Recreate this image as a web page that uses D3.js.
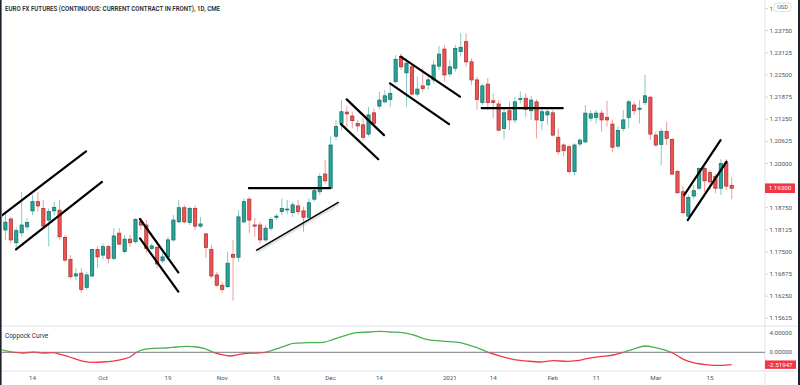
<!DOCTYPE html>
<html>
<head>
<meta charset="utf-8">
<script src="https://cdn.jsdelivr.net/npm/d3@7"></script>
<style>
  body { margin: 0; background: #fff; }
  svg { display: block; font-family: Roboto, "DejaVu Sans", sans-serif; }
</style>
</head>
<body>
<svg id="chart" width="800" height="385"></svg>
<script>
// Trading calendar (CME daily bars, holidays have no bar)
const FIRST_DAY = "2020-09-04";
const LAST_DAY = "2021-03-19";
const HOLIDAYS = ["2020-09-07", "2020-11-26", "2020-12-25", "2021-01-01", "2021-01-18", "2021-02-15"];

// OHLC, one entry per trading day
const OPEN = [
  1.1812, 1.1843, 1.1776, 1.1804, 1.1821, 1.1866, 1.1892, 1.1873, 1.1840, 1.1866,
  1.1868, 1.1791, 1.1729, 1.1682, 1.1690, 1.1650, 1.1682, 1.1757, 1.1741, 1.1765,
  1.1732, 1.1803, 1.1751, 1.1786, 1.1779, 1.1835, 1.1826, 1.1760, 1.1763, 1.1725,
  1.1736, 1.1784, 1.1835, 1.1875, 1.1833, 1.1873, 1.1823, 1.1801, 1.1757, 1.1685,
  1.1656, 1.1652, 1.1743, 1.1735, 1.1835, 1.1899, 1.1826, 1.1826, 1.1784, 1.1817,
  1.1848, 1.1864, 1.1869, 1.1861, 1.1880, 1.1866, 1.1848, 1.1899, 1.1920, 1.1970,
  1.1930, 1.2077, 1.2113, 1.2145, 1.2134, 1.2113, 1.2109, 1.2083, 1.2143, 1.2162,
  1.2174, 1.2181, 1.2231, 1.2302, 1.2256, 1.2273, 1.2196, 1.2219, 1.2222, 1.2236,
  1.2275, 1.2323, 1.2253, 1.2269, 1.2316, 1.2344, 1.2287, 1.2236, 1.2172, 1.2224,
  1.2177, 1.2168, 1.2099, 1.2149, 1.2123, 1.2181, 1.2184, 1.2149, 1.2174, 1.2121,
  1.2137, 1.2143, 1.2074, 1.2052, 1.2047, 1.1977, 1.2055, 1.2061, 1.2128, 1.2130,
  1.2142, 1.2130, 1.2111, 1.2049, 1.2099, 1.2130, 1.2165, 1.2153, 1.2172, 1.2187,
  1.2080, 1.2054, 1.2090, 1.2068, 1.1977, 1.1920, 1.1851, 1.1908, 1.1930, 1.1986,
  1.1974, 1.1963, 1.1930, 1.2002, 1.1938
];
const HIGH = [
  1.1864, 1.1849, 1.1820, 1.1920, 1.1845, 1.1911, 1.1920, 1.1897, 1.1873, 1.1892,
  1.1897, 1.1798, 1.1741, 1.1704, 1.1704, 1.1694, 1.1760, 1.1767, 1.1774, 1.1770,
  1.1817, 1.1817, 1.1798, 1.1798, 1.1845, 1.1842, 1.1840, 1.1774, 1.1767, 1.1746,
  1.1793, 1.1854, 1.1897, 1.1883, 1.1878, 1.1883, 1.1849, 1.1803, 1.1770, 1.1694,
  1.1666, 1.1751, 1.1784, 1.1868, 1.1901, 1.1906, 1.1846, 1.1835, 1.1826, 1.1848,
  1.1857, 1.1901, 1.1897, 1.1892, 1.1897, 1.1878, 1.1901, 1.1934, 1.1972, 1.2010,
  1.2077, 1.2123, 1.2179, 1.2162, 1.2146, 1.2123, 1.2128, 1.2160, 1.2156, 1.2203,
  1.2208, 1.2226, 1.2306, 1.2311, 1.2297, 1.2278, 1.2245, 1.2269, 1.2245, 1.2292,
  1.2332, 1.2335, 1.2292, 1.2335, 1.2368, 1.2368, 1.2297, 1.2245, 1.2226, 1.2241,
  1.2198, 1.2179, 1.2160, 1.2174, 1.2189, 1.2203, 1.2198, 1.2191, 1.2181, 1.2156,
  1.2160, 1.2151, 1.2099, 1.2057, 1.2052, 1.2057, 1.2071, 1.2165, 1.2151, 1.2151,
  1.2151, 1.2177, 1.2123, 1.2104, 1.2151, 1.2179, 1.2174, 1.2179, 1.2250, 1.2191,
  1.2090, 1.2099, 1.2118, 1.2071, 1.1981, 1.1936, 1.1911, 1.1939, 1.1989, 1.1991,
  1.1981, 1.1972, 1.2012, 1.2012, 1.1961
];
const LOW = [
  1.1784, 1.1774, 1.1763, 1.1793, 1.1812, 1.1854, 1.1864, 1.1817, 1.1765, 1.1854,
  1.1784, 1.1722, 1.1675, 1.1671, 1.1635, 1.1642, 1.1680, 1.1704, 1.1729, 1.1718,
  1.1727, 1.1770, 1.1746, 1.1765, 1.1774, 1.1812, 1.1746, 1.1755, 1.1704, 1.1718,
  1.1727, 1.1779, 1.1831, 1.1831, 1.1826, 1.1812, 1.1818, 1.1733, 1.1676, 1.1652,
  1.1635, 1.1648, 1.1612, 1.1722, 1.1831, 1.1803, 1.1793, 1.1774, 1.1779, 1.1810,
  1.1840, 1.1854, 1.1857, 1.1849, 1.1854, 1.1807, 1.1840, 1.1892, 1.1911, 1.1944,
  1.1928, 1.2066, 1.2094, 1.2104, 1.2099, 1.2090, 1.2066, 1.2076, 1.2109, 1.2153,
  1.2170, 1.2159, 1.2226, 1.2264, 1.2159, 1.2193, 1.2189, 1.2203, 1.2208, 1.2226,
  1.2264, 1.2231, 1.2245, 1.2259, 1.2302, 1.2273, 1.2222, 1.2151, 1.2165, 1.2151,
  1.2128, 1.2090, 1.2068, 1.2094, 1.2113, 1.2170, 1.2132, 1.2123, 1.2071, 1.2094,
  1.2109, 1.2077, 1.2024, 1.2019, 1.1972, 1.1967, 1.2047, 1.2057, 1.2118, 1.2113,
  1.2090, 1.2104, 1.2033, 1.2043, 1.2090, 1.2099, 1.2137, 1.2113, 1.2165, 1.2066,
  1.2047, 1.1996, 1.2052, 1.1967, 1.1916, 1.1857, 1.1849, 1.1901, 1.1925, 1.1920,
  1.1925, 1.1916, 1.1911, 1.1925, 1.1899
];
const CLOSE = [
  1.1834, 1.1784, 1.1810, 1.1826, 1.1833, 1.1892, 1.1880, 1.1823, 1.1864, 1.1876,
  1.1793, 1.1727, 1.1680, 1.1688, 1.1644, 1.1685, 1.1757, 1.1736, 1.1765, 1.1732,
  1.1795, 1.1772, 1.1786, 1.1776, 1.1842, 1.1826, 1.1760, 1.1767, 1.1716, 1.1736,
  1.1784, 1.1840, 1.1875, 1.1835, 1.1873, 1.1823, 1.1829, 1.1763, 1.1682, 1.1656,
  1.1644, 1.1718, 1.1735, 1.1849, 1.1892, 1.1840, 1.1823, 1.1784, 1.1817, 1.1842,
  1.1851, 1.1873, 1.1871, 1.1883, 1.1864, 1.1848, 1.1889, 1.1923, 1.1963, 1.1951,
  1.2052, 1.2104, 1.2146, 1.2140, 1.2121, 1.2106, 1.2074, 1.2137, 1.2113, 1.2179,
  1.2191, 1.2198, 1.2294, 1.2273, 1.2283, 1.2196, 1.2210, 1.2212, 1.2236, 1.2278,
  1.2309, 1.2250, 1.2273, 1.2325, 1.2328, 1.2287, 1.2236, 1.2181, 1.2219, 1.2172,
  1.2172, 1.2094, 1.2143, 1.2123, 1.2174, 1.2183, 1.2153, 1.2179, 1.2123, 1.2146,
  1.2146, 1.2080, 1.2033, 1.2036, 1.1977, 1.2052, 1.2066, 1.2142, 1.2140, 1.2142,
  1.2123, 1.2123, 1.2046, 1.2093, 1.2123, 1.2174, 1.2149, 1.2156, 1.2191, 1.2083,
  1.2052, 1.2090, 1.2071, 1.1970, 1.1917, 1.1861, 1.1904, 1.1923, 1.1986, 1.1951,
  1.1948, 1.1930, 1.2000, 1.1936, 1.1930
];

// Coppock curve (bar position, value)
const COP_POS = [
  -1.0, 0.2, 1.8, 3.3, 5.2, 7.0, 8.8, 10.7, 12.5, 14.4, 16.2, 18.1, 19.9, 21.8, 23.0,
  24.2, 25.4, 27.3, 29.8, 31.6, 33.5, 35.3, 36.8, 38.4, 39.9, 41.4, 43.0, 44.5, 46.4,
  47.9, 50.1, 51.9, 53.1, 55.6, 58.7, 60.5, 63.0, 64.8, 67.3, 69.1, 71.0, 72.8, 75.3,
  77.7, 79.6, 81.4, 83.9, 85.1, 87.0, 89.1, 91.3, 93.7, 96.2, 98.6, 101.1, 103.6,
  105.4, 107.3, 109.7, 112.2, 114.0, 115.9, 118.0, 119.9, 122.0, 123.2, 125.1, 126.9,
  128.8, 130.6, 132.2, 134.0
];
const COP_VAL = [
  0.61, 0.27, 0.00, -0.14, 0.06, -0.14, -0.07, -0.60, -1.20, -1.84, -2.04, -1.98, -1.78, -1.37, -0.96,
  0.00, 0.54, 0.82, 0.88, 1.08, 1.22, 1.08, 0.73, 0.00, -0.48, -0.76, -0.48, -0.20, -0.14,
  0.00, 0.73, 1.43, 1.84, 1.96, 2.04, 2.65, 3.53, 4.00, 4.14, 4.29, 4.14, 4.08, 3.53,
  2.65, 2.37, 2.24, 1.96, 1.63, 0.94, 0.00, -0.76, -1.43, -1.78, -1.98, -1.71, -1.84,
  -1.71, -1.31, -0.90, -0.55, 0.00, 0.67, 1.29, 0.94, 0.33, -0.20, -1.43, -2.12,
  -2.45, -2.68, -2.66, -2.51947
];

// Drawn annotations: [[bar, price], [bar, price]]
const TREND_LINES = [
  [[-1.0, 1.1849], [14.87, 1.2034]],
  [[1.96, 1.1757], [17.82, 1.1948]],
  [[24.83, 1.1843], [31.9, 1.1692]],
  [[24.83, 1.1788], [31.9, 1.1638]],
  [[44.94, 1.1930], [59.89, 1.1930]],
  [[62.97, 1.2181], [69.85, 1.2080]],
  [[61.92, 1.2111], [68.80, 1.2012]],
  [[72.93, 1.2302], [83.87, 1.2189]],
  [[70.96, 1.2226], [81.85, 1.2111]],
  [[87.88, 1.2156], [102.82, 1.2156]],
  [[125.26, 1.1911], [131.95, 1.2066]],
  [[125.89, 1.1840], [133.05, 1.2005]]
];
const SUPPORT_LINES = [
  [[46.37, 1.1755], [61.42, 1.1890]]
];

// Axis labels
const TICK_DAYS = ["2020-09-14", "2020-10-01", "2020-10-19", "2020-11-02", "2020-11-16", "2020-12-01",
  "2020-12-14", "2021-01-04", "2021-01-14", "2021-02-01", "2021-02-11", "2021-03-01", "2021-03-15"];
const TICK_LABELS = ["14", "Oct", "19", "Nov", "16", "Dec", "14", "2021", "14", "Feb", "11", "Mar", "15"];
// 1.19375 sits under the last-price badge in the reference, so it is left out
const PRICE_TICKS = [1.24375, 1.2375, 1.23125, 1.225, 1.21875, 1.2125, 1.20625, 1.2,
  1.1875, 1.18125, 1.175, 1.16875, 1.1625, 1.15625];
const COP_TICKS = [4, 0];

const TITLE = "EURO FX FUTURES (CONTINUOUS: CURRENT CONTRACT IN FRONT), 1D, CME";
const COP_TITLE = "Coppock Curve";

function tradingDays(first, last) {
  const out = [];
  const d = new Date(first + "T00:00:00Z");
  const end = new Date(last + "T00:00:00Z");
  while (d <= end) {
    const s = d.toISOString().slice(0, 10);
    const wd = d.getUTCDay();
    if (wd !== 0 && wd !== 6 && !HOLIDAYS.includes(s)) out.push(s);
    d.setUTCDate(d.getUTCDate() + 1);
  }
  return out;
}

const days = tradingDays(FIRST_DAY, LAST_DAY);
const bars = days.map((d, i) => ({i: i, o: OPEN[i], h: HIGH[i], l: LOW[i], c: CLOSE[i]}));

const W = 800, H = 385;
const axisX = 765;
const mainTop = 0, mainBottom = 326;
const copTop = 326, copBottom = 371;

const svg = d3.select("#chart");

const x = d3.scaleLinear()
  .domain([days.indexOf("2020-09-14"), days.indexOf("2021-03-15")])
  .range([32.5, 710]);

const y = d3.scaleLinear()
  .domain([1.15625, 1.2375])
  .range([318.3, 30.7]);

const yc = d3.scaleLinear()
  .domain([0, 4])
  .range([352.3, 332.7]);

const defs = svg.append("defs");
defs.append("clipPath").attr("id", "mainClip")
  .append("rect").attr("x", 2).attr("y", mainTop).attr("width", axisX - 2).attr("height", mainBottom - mainTop);
defs.append("clipPath").attr("id", "copAbove")
  .append("rect").attr("x", 2).attr("y", copTop).attr("width", axisX - 2).attr("height", yc(0) - copTop);
defs.append("clipPath").attr("id", "copBelow")
  .append("rect").attr("x", 2).attr("y", yc(0)).attr("width", axisX - 2).attr("height", copBottom - yc(0));
// the top price label is mostly hidden behind the currency badge
defs.append("clipPath").attr("id", "badgeClip")
  .append("rect").attr("x", axisX).attr("y", 0).attr("width", 8.5).attr("height", 14);
const shadow = defs.append("filter").attr("id", "shadow")
  .attr("x", "-10%").attr("y", "-50%").attr("width", "120%").attr("height", "200%");
shadow.append("feDropShadow").attr("dx", 0).attr("dy", 1.5).attr("stdDeviation", 1.2)
  .attr("flood-color", "#000").attr("flood-opacity", 0.3);

svg.append("rect").attr("width", W).attr("height", H).attr("fill", "#fff");

// pane separators
const sepColor = "#e0e3eb";
svg.append("line").attr("x1", 0).attr("x2", W).attr("y1", mainBottom).attr("y2", mainBottom)
  .attr("stroke", sepColor).attr("stroke-width", 1);
svg.append("line").attr("x1", 0).attr("x2", W).attr("y1", copBottom).attr("y2", copBottom)
  .attr("stroke", sepColor).attr("stroke-width", 1);
svg.append("line").attr("x1", axisX).attr("x2", axisX).attr("y1", 0).attr("y2", H)
  .attr("stroke", sepColor).attr("stroke-width", 1);

// candles
const main = svg.append("g").attr("clip-path", "url(#mainClip)");
const up = d => d.c >= d.o;
const bodyW = 3.2;

main.selectAll(".wick").data(bars).enter().append("line")
  .attr("x1", d => x(d.i)).attr("x2", d => x(d.i))
  .attr("y1", d => y(d.h)).attr("y2", d => y(d.l))
  .attr("stroke", d => up(d) ? "#86cbc3" : "#f19c9a")
  .attr("stroke-width", 1);

main.selectAll(".body").data(bars).enter().append("rect")
  .attr("x", d => x(d.i) - bodyW / 2)
  .attr("y", d => y(Math.max(d.o, d.c)))
  .attr("width", bodyW)
  .attr("height", d => Math.max(0.8, Math.abs(y(d.o) - y(d.c))))
  .attr("fill", d => up(d) ? "#26a69a" : "#ef5350")
  .attr("stroke", d => up(d) ? "#1b6f67" : "#a8363a")
  .attr("stroke-width", 0.8);

// annotations
const seg = d3.line().x(p => x(p[0])).y(p => y(p[1]));
main.selectAll(".trend").data(TREND_LINES).enter().append("path")
  .attr("d", seg).attr("fill", "none")
  .attr("stroke", "#000").attr("stroke-width", 2.2).attr("stroke-linecap", "round");
main.selectAll(".support").data(SUPPORT_LINES).enter().append("path")
  .attr("d", seg).attr("fill", "none")
  .attr("stroke", "#000").attr("stroke-width", 1.4).attr("stroke-linecap", "round")
  .attr("filter", "url(#shadow)");

// title
svg.append("text").attr("x", 5).attr("y", 10.5)
  .attr("font-size", 6.6).attr("font-weight", 600).attr("fill", "#2a2e39")
  .attr("textLength", 215).attr("lengthAdjust", "spacingAndGlyphs")
  .text(TITLE);

// price axis
const labelColor = "#50535e";
const priceAxis = svg.append("g");
priceAxis.selectAll("line").data(PRICE_TICKS).enter().append("line")
  .attr("x1", axisX).attr("x2", axisX + 3)
  .attr("y1", d => y(d)).attr("y2", d => y(d))
  .attr("stroke", "#c8cad0").attr("stroke-width", 0.8);
priceAxis.selectAll("text").data(PRICE_TICKS).enter().append("text")
  .attr("x", 769.5).attr("y", d => y(d)).attr("dy", "0.35em")
  .attr("font-size", 6.2).attr("fill", labelColor)
  .attr("clip-path", d => y(d) < 15 ? "url(#badgeClip)" : null)
  .text(d => d.toFixed(5));

// currency badge
svg.append("rect").attr("x", 774).attr("y", 3).attr("width", 17).attr("height", 8.5).attr("rx", 3)
  .attr("fill", "#fff").attr("stroke", "#d1d4dc").attr("stroke-width", 0.7);
svg.append("text").attr("x", 782.5).attr("y", 7.4).attr("dy", "0.35em").attr("text-anchor", "middle")
  .attr("font-size", 5.6).attr("fill", labelColor).text("USD");

// last price badge
const lastClose = CLOSE[CLOSE.length - 1];
svg.append("rect").attr("x", 765).attr("y", y(lastClose) - 4.8).attr("width", 30).attr("height", 9.6)
  .attr("fill", "#f23645");
svg.append("text").attr("x", 780).attr("y", y(lastClose)).attr("dy", "0.35em").attr("text-anchor", "middle")
  .attr("font-size", 6.2).attr("fill", "#fff").text(lastClose.toFixed(5));

// coppock pane
svg.append("line").attr("x1", 2).attr("x2", axisX).attr("y1", yc(0)).attr("y2", yc(0))
  .attr("stroke", "#787b86").attr("stroke-width", 1);
const copPts = COP_POS.map((p, k) => [p, COP_VAL[k]]);
const copLine = d3.line().x(p => x(p[0])).y(p => yc(p[1])).curve(d3.curveMonotoneX);
svg.append("path").attr("d", copLine(copPts)).attr("fill", "none")
  .attr("stroke", "#4caf50").attr("stroke-width", 1.3).attr("clip-path", "url(#copAbove)");
svg.append("path").attr("d", copLine(copPts)).attr("fill", "none")
  .attr("stroke", "#f23645").attr("stroke-width", 1.3).attr("clip-path", "url(#copBelow)");

svg.append("text").attr("x", 5).attr("y", 335.5).attr("dy", "0.35em")
  .attr("font-size", 6.4).attr("fill", "#2a2e39").text(COP_TITLE);

svg.append("g").selectAll("text").data(COP_TICKS).enter().append("text")
  .attr("x", 769.5).attr("y", d => yc(d)).attr("dy", "0.35em")
  .attr("font-size", 6.2).attr("fill", labelColor)
  .text(d => d.toFixed(5));

const lastCop = COP_VAL[COP_VAL.length - 1];
svg.append("rect").attr("x", 765).attr("y", yc(lastCop) - 4.2).attr("width", 31).attr("height", 8.4)
  .attr("fill", "#f23645");
svg.append("text").attr("x", 780.5).attr("y", yc(lastCop)).attr("dy", "0.35em").attr("text-anchor", "middle")
  .attr("font-size", 6.2).attr("fill", "#fff").text(lastCop.toFixed(5));

// time axis
svg.append("g").selectAll("text").data(TICK_DAYS).enter().append("text")
  .attr("x", d => x(days.indexOf(d))).attr("y", 378).attr("dy", "0.35em")
  .attr("text-anchor", "middle").attr("font-size", 6.2).attr("fill", labelColor)
  .text((d, k) => TICK_LABELS[k]);

// frame edges
svg.append("rect").attr("x", 0).attr("y", 0).attr("width", 1.6).attr("height", H).attr("fill", "#1e222d");
svg.append("rect").attr("x", 798).attr("y", 0).attr("width", 2).attr("height", H).attr("fill", "#1e222d");
</script>
</body>
</html>
